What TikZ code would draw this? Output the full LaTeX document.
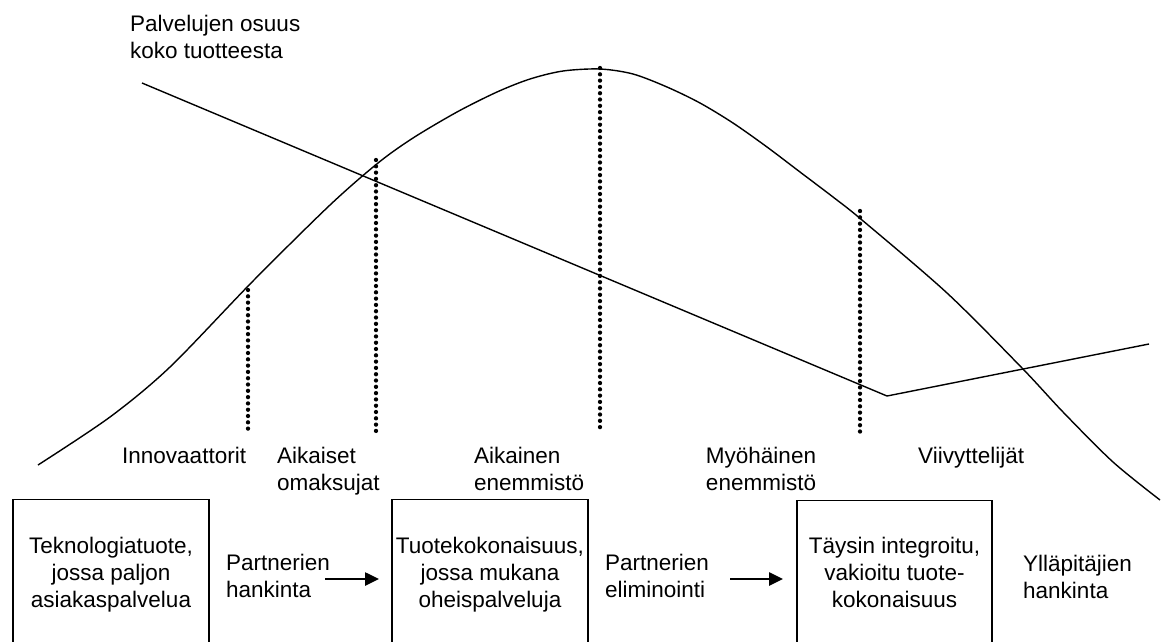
\documentclass[tikz,border=0pt]{standalone}
\usepackage{fontspec}
\setmainfont{Liberation Sans}
\usetikzlibrary{arrows.meta}
\begin{document}
\begin{tikzpicture}[x=1pt,y=-1pt,
  txt/.style={font=\fontsize{22.5}{27}\selectfont, inner sep=0pt, anchor=base west, align=left},
  ctxt/.style={font=\fontsize{22.5}{27}\selectfont, inner sep=0pt, anchor=base, align=center},
  curveline/.style={line width=1.4pt, line join=round},
  dots/.style={line width=4.3pt, line cap=round, dash pattern=on 0pt off 6.3pt},
  stagebox/.style={draw, line width=1.3pt, minimum width=196pt, minimum height=180pt, anchor=north, inner sep=0pt},
  flow/.style={line width=2.6pt, -{Triangle[length=14pt,width=13pt]}}
]
\useasboundingbox (0,0) rectangle (1166,641);

% title (base = last line)
\node[txt] (title) at (130,58) {Palvelujen osuus\\koko tuotteesta};

% adoption curve
\draw[curveline] plot[smooth, tension=0.5] coordinates {
  (38,465) (110,417) (170,367) (253,281) (330,205) (378,163) (413,138)
  (457,112) (497,92) (530,79) (563,71) (600,69) (633,74) (667,87)
  (700,103) (733,123) (767,147) (800,172) (833,197) (862,220)
  (947,293) (1022,368) (1063,412) (1113,462) (1160,500)};

% share of services line
\coordinate (s0) at (142,83);
\coordinate (s1) at (887,396);
\coordinate (s2) at (1149,344);
\draw[curveline] (s0) -- (s1) -- (s2);

% dotted dividers
\draw[dots] (248,290) -- (248,430);
\draw[dots] (376,160) -- (376,432);
\draw[dots] (600,68) -- (600,430);
\draw[dots] (860,211) -- (860,436);

% segment labels (base = last line)
\node[txt] (l1) at (122,463) {Innovaattorit};
\node[txt] (l2) at (277,490) {Aikaiset\\omaksujat};
\node[txt] (l3) at (474,490) {Aikainen\\enemmistö};
\node[ctxt] (l4) at (761,490) {Myöhäinen\\enemmistö};
\node[txt] (l5) at (918,463) {Viivyttelijät};

% boxes (open at the bottom edge of the picture)
\node[stagebox] (b1) at (111,499) {};
\node[stagebox] (b2) at (490,499) {};
\node[stagebox, minimum width=195pt] (b3) at (894.5,500) {};
\node[ctxt] (t1) at ([yshift=-108pt]b1.north) {Teknologiatuote,\\jossa paljon\\asiakaspalvelua};
\node[ctxt] (t2) at ([yshift=-108pt]b2.north) {Tuotekokonaisuus,\\jossa mukana\\oheispalveluja};
\node[ctxt] (t3) at ([yshift=-107pt]b3.north) {Täysin integroitu,\\vakioitu tuote-\\kokonaisuus};

% transitions
\node[txt] (p1) at (226,597) {Partnerien\\hankinta};
\node[txt] (p2) at (605,597) {Partnerien\\eliminointi};
\node[txt] (p3) at (1023,598) {Ylläpitäjien\\hankinta};

\coordinate (a1s) at (325,579);
\coordinate (a1e) at (379,579);
\coordinate (a2s) at (730,579);
\coordinate (a2e) at (783,579);
\draw[flow] (a1s) -- (a1e);
\draw[flow] (a2s) -- (a2e);
\end{tikzpicture}
\end{document}
